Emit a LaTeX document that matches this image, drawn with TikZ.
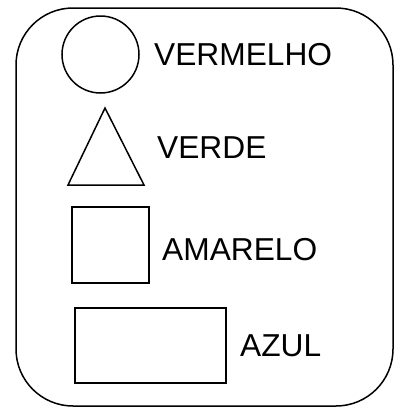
\documentclass[tikz,border=0pt]{standalone}
\usepackage{fontspec}
\setmainfont{Liberation Sans}
\begin{document}
\begin{tikzpicture}[x=1pt,y=-1pt,
  shp/.style={draw=black,line width=1.5pt},
  lbl/.style={anchor=base west,inner sep=0pt,font=\fontsize{31.7}{31.7}\selectfont}]
\useasboundingbox (0,0) rectangle (394,407);
\draw[shp,rounded corners=57pt] (16,8) rectangle (393,406);
\node[shp,circle,minimum size=77pt,inner sep=0pt] (circ) at (100.5,54.5) {};
\draw[shp] (105,108) -- (144,185) -- (68,185) -- cycle;
\node[shp,rectangle,minimum width=77pt,minimum height=76pt,inner sep=0pt] (sq) at (110.5,245) {};
\node[shp,rectangle,minimum width=151pt,minimum height=75pt,inner sep=0pt] (rect) at (150.5,345.5) {};
\node[lbl] (t1) at (154,65) {VERMELHO};
\node[lbl] (t2) at (157,158) {VERDE};
\node[lbl] (t3) at (162,260) {AMARELO};
\node[lbl] (t4) at (240,356) {AZUL};
\end{tikzpicture}
\end{document}
